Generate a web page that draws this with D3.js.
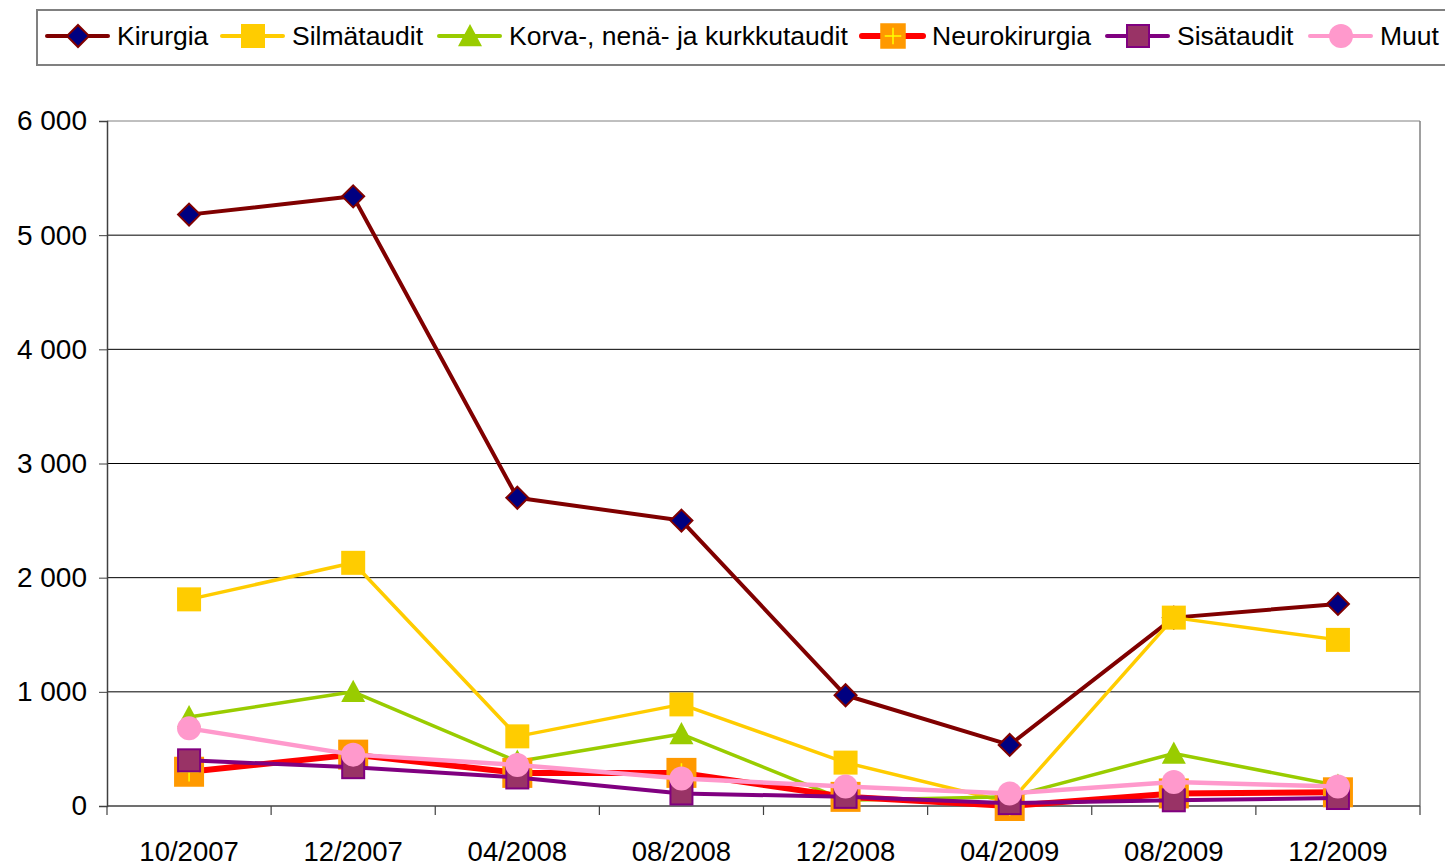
<!DOCTYPE html>
<html><head><meta charset="utf-8">
<script src="https://cdn.jsdelivr.net/npm/d3@7"></script>
<style>
html,body{margin:0;padding:0;background:#fff;}
svg{display:block;font-family:"Liberation Sans",Arial,sans-serif;}
</style></head>
<body>
<svg id="chart" width="1445" height="866"></svg>
<script>
const categories = ["10/2007","12/2007","04/2008","08/2008","12/2008","04/2009","08/2009","12/2009"];
const seriesNames = ["Kirurgia","Silmätaudit","Korva-, nenä- ja kurkkutaudit","Neurokirurgia","Sisätaudit","Muut"];
const kirurgia = [5180, 5340, 2700, 2500, 970, 535, 1650, 1770];
const silmataudit = [1810, 2130, 610, 890, 380, 30, 1650, 1455];
const korva = [780, 1000, 390, 630, 50, 80, 460, 180];
const neurokirurgia = [300, 450, 290, 290, 80, 0, 110, 120];
const sisataudit = [400, 340, 250, 110, 80, 25, 50, 70];
const muut = [680, 450, 360, 240, 170, 110, 210, 170];
const yTicks = [0, 1000, 2000, 3000, 4000, 5000, 6000];

const seriesValues = [kirurgia, silmataudit, korva, neurokirurgia, sisataudit, muut];
const styles = [
  {line:"#800000", w:4, marker:"diamond", fill:"#000080", stroke:"#800000", size:11},
  {line:"#FFCC00", w:3.5, marker:"square", fill:"#FFCC00", stroke:"#FFCC00", size:11},
  {line:"#99CC00", w:3.5, marker:"triangle", fill:"#99CC00", stroke:"#99CC00", size:12},
  {line:"#FF0000", w:6, marker:"plus", fill:"#FF9900", stroke:"#FF9900", size:15},
  {line:"#800080", w:4, marker:"square", fill:"#993366", stroke:"#800080", size:11},
  {line:"#FF99CC", w:4.5, marker:"circle", fill:"#FF99CC", stroke:"#FF99CC", size:12}
];

const svg = d3.select("#chart");
const L = 107, R = 1420, T = 121, B = 806;
const x = d3.scaleBand().domain(categories).range([L, R]).padding(0);
const y = d3.scaleLinear().domain([0, 6000]).range([B, T]);
const fmt = d3.formatLocale({decimal:",", thousands:" ", grouping:[3], currency:["","€"]}).format(",");
const cx = c => x(c) + x.bandwidth()/2;

// gridlines
svg.append("g").selectAll("line").data(yTicks.filter(t => t > 0)).join("line")
  .attr("x1", L).attr("x2", R).attr("y1", d => y(d)).attr("y2", d => y(d))
  .attr("stroke", d => d === 6000 ? "#808080" : "#000").attr("stroke-width", 1);
// right border
svg.append("line").attr("x1", R).attr("x2", R).attr("y1", T).attr("y2", B).attr("stroke", "#808080").attr("stroke-width", 1.5);

// y axis
const yAxis = svg.append("g").attr("transform", `translate(${L},0)`)
  .call(d3.axisLeft(y).tickValues(yTicks).tickFormat(fmt).tickSize(8).tickPadding(12));
yAxis.select(".domain").attr("stroke", "#404040").attr("stroke-width", 1.5);
yAxis.selectAll(".tick line").attr("stroke", "#404040");
yAxis.selectAll("text").attr("font-size", 28).attr("font-family", "Liberation Sans, Arial, sans-serif").attr("fill", "#000");

// x axis
svg.append("line").attr("x1", L).attr("x2", R).attr("y1", B).attr("y2", B).attr("stroke", "#404040").attr("stroke-width", 1.5);
const bounds = categories.map(c => x(c)).concat([R]);
svg.append("g").selectAll("line").data(bounds).join("line")
  .attr("x1", d => d).attr("x2", d => d).attr("y1", B).attr("y2", B + 9).attr("stroke", "#404040").attr("stroke-width", 1.2);
svg.append("g").selectAll("text").data(categories).join("text")
  .attr("x", d => cx(d)).attr("y", 861).attr("text-anchor", "middle")
  .attr("font-size", 27.5).text(d => d);

function drawMarker(g, st, px, py, scale) {
  const s = st.size * (scale || 1);
  if (st.marker === "diamond") {
    g.append("path").attr("d", `M${px},${py-s}L${px+s},${py}L${px},${py+s}L${px-s},${py}Z`)
      .attr("fill", st.fill).attr("stroke", st.stroke).attr("stroke-width", 2);
  } else if (st.marker === "square") {
    g.append("rect").attr("x", px-s).attr("y", py-s).attr("width", 2*s).attr("height", 2*s)
      .attr("fill", st.fill).attr("stroke", st.stroke).attr("stroke-width", 2);
  } else if (st.marker === "triangle") {
    g.append("path").attr("d", `M${px},${py-s}L${px+s},${py+s*0.85}L${px-s},${py+s*0.85}Z`).attr("fill", st.fill);
  } else if (st.marker === "plus") {
    g.append("rect").attr("x", px-s).attr("y", py-s).attr("width", 2*s).attr("height", 2*s).attr("fill", st.fill);
    g.append("path").attr("d", `M${px-s*0.65},${py}H${px+s*0.65}M${px},${py-s*0.65}V${py+s*0.65}`)
      .attr("stroke", "#FFFF00").attr("stroke-width", 1.5);
  } else if (st.marker === "circle") {
    g.append("circle").attr("cx", px).attr("cy", py).attr("r", s).attr("fill", st.fill);
  }
}

const line = d3.line().x((d, i) => cx(categories[i])).y(d => y(d));
seriesValues.forEach((vals, si) => {
  const st = styles[si];
  const g = svg.append("g");
  g.append("path").datum(vals).attr("d", line).attr("fill", "none")
    .attr("stroke", st.line).attr("stroke-width", st.w).attr("stroke-linejoin", "round");
  vals.forEach((v, i) => drawMarker(g, st, cx(categories[i]), y(v)));
});

// legend
const lg = svg.append("g");
lg.append("rect").attr("x", 37).attr("y", 10).attr("width", 1420).attr("height", 55)
  .attr("fill", "#fff").attr("stroke", "#808080").attr("stroke-width", 2);
const legendX = [47, 222, 439, 862, 1107, 1310];
seriesNames.forEach((n, i) => {
  const st = styles[i];
  const x0 = legendX[i], yc = 36;
  lg.append("line").attr("x1", x0).attr("x2", x0 + 61).attr("y1", yc).attr("y2", yc)
    .attr("stroke", st.line).attr("stroke-width", i === 3 ? 6 : 4).attr("stroke-linecap", "round");
  drawMarker(lg, st, x0 + 31, yc, i === 3 ? 0.85 : 1);
  lg.append("text").attr("x", x0 + 70).attr("y", yc + 9).attr("font-size", 26.5).text(n);
});
</script>
</body></html>
